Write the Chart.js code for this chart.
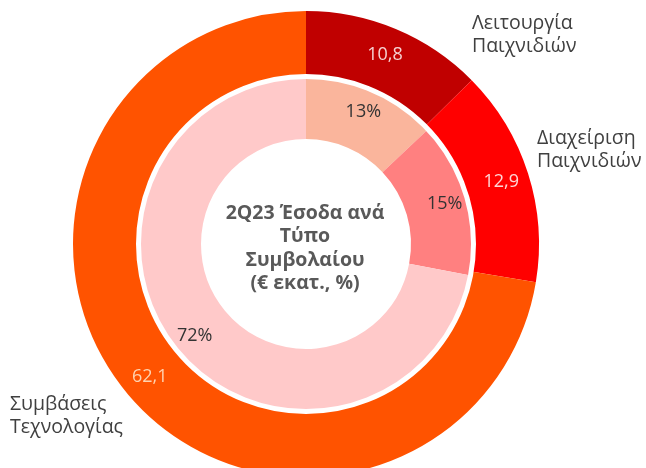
<!DOCTYPE html>
<html>
<head>
<meta charset="utf-8">
<script src="https://cdn.jsdelivr.net/npm/chart.js@4"></script>
<style>
  html, body { margin: 0; padding: 0; background: #fff; overflow: hidden; }
  #wrap { position: relative; width: 646px; height: 490px; }
</style>
</head>
<body>
<div id="wrap"><canvas id="c"></canvas></div>
<script>
// ---- data ----
const categories = [['Λειτουργία', 'Παιχνιδιών'], ['Διαχείριση', 'Παιχνιδιών'], ['Συμβάσεις', 'Τεχνολογίας']];
const revenueMillions = [10.8, 12.9, 62.1];
const sharePercent = [13, 15, 72];
const centerTitle = ['2Q23 Έσοδα ανά', 'Τύπο', 'Συμβολαίου', '(€ εκατ., %)'];

const outerColors = ['#C00000', '#FF0000', '#FF5300'];
const innerColors = ['#FAB59C', '#FF8080', '#FFC9C9'];
const outerLabelColors = ['#F6D2D2', '#FFD6D6', '#FFD3B0'];

const FONT = '"Open Sans", "Noto Sans", sans-serif';

const labelsPlugin = {
  id: 'labelsPlugin',
  afterDatasetsDraw(chart) {
    const ctx = chart.ctx;
    const outerMeta = chart.getDatasetMeta(0);
    const innerMeta = chart.getDatasetMeta(1);
    const a0 = outerMeta.data[0];
    const cx = a0.x, cy = a0.y;

    // white gap between rings
    ctx.save();
    ctx.beginPath();
    ctx.arc(cx, cy, outerMeta.controller.innerRadius, 0, Math.PI * 2);
    ctx.strokeStyle = '#ffffff';
    ctx.lineWidth = 5;
    ctx.stroke();
    ctx.restore();

    function arcLabel(arc, frac, text, color) {
      const mid = (arc.startAngle + arc.endAngle) / 2;
      const r = arc.innerRadius + frac * (arc.outerRadius - arc.innerRadius);
      ctx.fillStyle = color;
      ctx.fillText(text, cx + Math.cos(mid) * r, cy + Math.sin(mid) * r);
    }

    ctx.save();
    ctx.textAlign = 'center';
    ctx.textBaseline = 'middle';
    ctx.font = '18px ' + FONT;
    outerMeta.data.forEach((arc, i) => {
      arcLabel(arc, 0.57, String(revenueMillions[i]).replace('.', ','), outerLabelColors[i]);
    });
    innerMeta.data.forEach((arc, i) => {
      arcLabel(arc, 0.63, sharePercent[i] + '%', '#333333');
    });

    // center title
    ctx.font = 'bold 19.5px ' + FONT;
    ctx.fillStyle = '#595959';
    const lh = 23.5;
    centerTitle.forEach((line, i) => {
      ctx.fillText(line, cx - 1, cy - 31 + i * lh);
    });

    // outside category names
    ctx.font = '19.5px ' + FONT;
    ctx.fillStyle = '#404040';
    ctx.textAlign = 'left';
    const anchors = [[cx + 166, cy - 221], [cx + 231, cy - 106], [cx - 296, cy + 160]];
    categories.forEach((lines, i) => {
      lines.forEach((line, j) => {
        ctx.fillText(line, anchors[i][0], anchors[i][1] + j * 23.5);
      });
    });
    ctx.restore();
  }
};

new Chart(document.getElementById('c'), {
  type: 'doughnut',
  data: {
    labels: categories.map(l => l.join(' ')),
    datasets: [
      { data: revenueMillions, backgroundColor: outerColors, borderWidth: 0, weight: 65.5 },
      { data: sharePercent, backgroundColor: innerColors, borderWidth: 0, weight: 62.5 }
    ]
  },
  options: {
    responsive: true,
    maintainAspectRatio: false,
    animation: false,
    cutout: '45.06%',
    layout: { padding: { left: 73, right: 107, top: 11, bottom: 13 } },
    plugins: { legend: { display: false }, tooltip: { enabled: false } },
    events: []
  },
  plugins: [labelsPlugin]
});
</script>
</body>
</html>
